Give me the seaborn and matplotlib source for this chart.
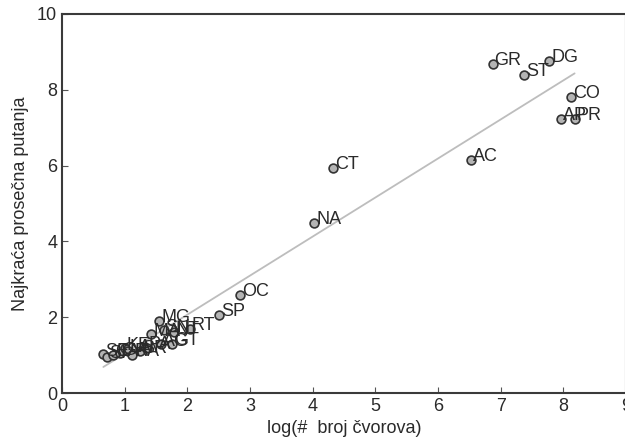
import numpy as np
import pandas as pd
import matplotlib
matplotlib.use("Agg")
import matplotlib.pyplot as plt
import seaborn as sns

labels = ["GR", "DG", "ST", "CO", "AP", "PR", "AC", "CT", "NA", "OC", "SP", "RT",
          "SE", "SI", "CA", "GA", "KE", "LA", "RA", "SR", "PA", "MA", "MG", "SN",
          "NT", "AG", "GT"]
x_vals = [6.87, 7.77, 7.38, 8.12, 7.96, 8.18, 6.52, 4.32, 4.02, 2.84, 2.50, 2.04,
          0.66, 0.72, 0.82, 0.92, 1.00, 1.05, 1.12, 1.25, 1.35, 1.42, 1.55, 1.62,
          1.78, 1.58, 1.75]
y_vals = [8.68, 8.76, 8.39, 7.81, 7.23, 7.23, 6.15, 5.94, 4.49, 2.59, 2.06, 1.69,
          1.02, 0.95, 1.00, 1.05, 1.18, 1.12, 1.00, 1.10, 1.20, 1.55, 1.90, 1.65,
          1.60, 1.28, 1.30]

df = pd.DataFrame({"x": x_vals, "y": y_vals, "label": labels})

sns.set_style("white")
plt.rcParams["font.family"] = ["Liberation Sans", "DejaVu Sans"]

fig = plt.figure(figsize=(6.25, 4.42), dpi=100)
ax = fig.add_axes([62/625, 49/442, 564/625, 379/442])

sns.regplot(data=df, x="x", y="y", ax=ax, scatter=False, ci=None,
            line_kws={"color": "#bdbdbd", "lw": 1.3})
sns.scatterplot(data=df, x="x", y="y", ax=ax, s=40, color="#b4b4b4",
                edgecolor="#333333", linewidth=1.2, zorder=3)
for _, r in df.iterrows():
    ax.annotate(r["label"], (r["x"], r["y"]), xytext=(1.5, -1.0), textcoords="offset points",
                fontsize=13, color="#2a2a2a", ha="left", va="baseline", zorder=4)

ax.set_xlim(0, 9)
ax.set_ylim(0, 10)
ax.set_xticks(range(0, 10))
ax.set_yticks(range(0, 11, 2))
ax.tick_params(direction="in", length=4, width=0.8, color="#555555",
               labelsize=13, labelcolor="#2a2a2a", bottom=True, left=True)
for s in ["left", "bottom", "top", "right"]:
    ax.spines[s].set_color("#3a3a3a")
    ax.spines[s].set_linewidth(1.5)
ax.set_xlabel("log(#  broj čvorova)", fontsize=13, color="#2a2a2a", labelpad=4)
ax.set_ylabel("Najkraća prosečna putanja", fontsize=13, color="#2a2a2a", labelpad=6)

fig.savefig("out.png", dpi=100)
